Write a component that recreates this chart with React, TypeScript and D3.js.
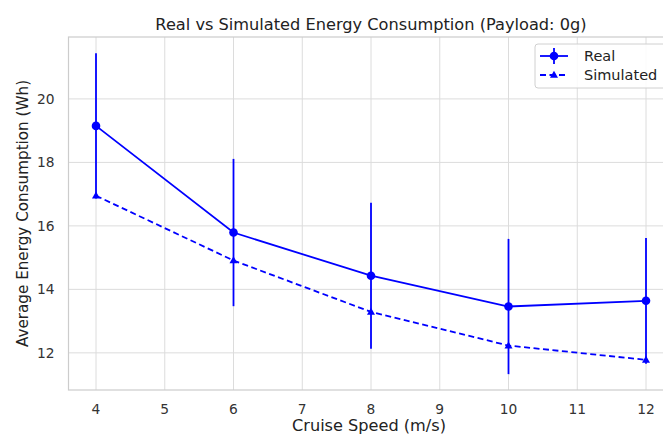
import React from "react";
import * as d3 from "d3";

const speeds = [4, 6, 8, 10, 12];
const realMean = [19.15, 15.79, 14.43, 13.46, 13.64];
const realErr = [2.29, 2.32, 2.3, 2.13, 1.98];
const simulated = [16.95, 14.91, 13.29, 12.23, 11.78];
const xTicks = [4, 5, 6, 7, 8, 9, 10, 11, 12];
const yTicks = [12, 14, 16, 18, 20];

const W = 663;
const H = 434;
const margin = { left: 68.5, top: 37, bottom: 390 };
const plotRight = 673.5;
const BLUE = "#0000ff";
const FONT = "DejaVu Sans, sans-serif";

export default function App() {
  const x = d3.scaleLinear().domain([3.6, 12.4]).range([margin.left, plotRight]);
  const y = d3.scaleLinear().domain([10.83, 21.95]).range([margin.bottom, margin.top]);

  const line = d3
    .line<number>()
    .x((_, i) => x(speeds[i]))
    .y((d) => y(d));

  const tri = d3.symbol().type(d3.symbolTriangle).size(28)() as string;

  return (
    <svg
      width={W}
      height={H}
      style={{ position: "absolute", left: 0, top: 0, background: "#fff" }}
      fontFamily={FONT}
    >
      <rect x={0} y={0} width={W} height={H} fill="#fff" />
      {/* grid */}
      {xTicks.map((t) => (
        <line key={"gx" + t} x1={x(t)} x2={x(t)} y1={margin.top} y2={margin.bottom} stroke="#dcdcdc" strokeWidth={1} />
      ))}
      {yTicks.map((t) => (
        <line key={"gy" + t} x1={margin.left} x2={plotRight} y1={y(t)} y2={y(t)} stroke="#dcdcdc" strokeWidth={1} />
      ))}
      {/* frame */}
      <rect
        x={margin.left}
        y={margin.top}
        width={plotRight - margin.left}
        height={margin.bottom - margin.top}
        fill="none"
        stroke="#cccccc"
        strokeWidth={1.2}
      />
      {/* tick labels */}
      {xTicks.map((t) => (
        <text key={"tx" + t} x={x(t)} y={margin.bottom + 24} fontSize={13.8} fill="#333" textAnchor="middle">
          {t}
        </text>
      ))}
      {yTicks.map((t) => (
        <text key={"ty" + t} x={54.5} y={y(t) + 5} fontSize={13.8} fill="#333" textAnchor="end">
          {t}
        </text>
      ))}
      {/* error bars */}
      {speeds.map((s, i) => (
        <line
          key={"e" + s}
          x1={x(s)}
          x2={x(s)}
          y1={y(realMean[i] - realErr[i])}
          y2={y(realMean[i] + realErr[i])}
          stroke={BLUE}
          strokeWidth={1.8}
        />
      ))}
      {/* lines */}
      <path d={line(realMean) ?? ""} fill="none" stroke={BLUE} strokeWidth={1.8} />
      <path d={line(simulated) ?? ""} fill="none" stroke={BLUE} strokeWidth={1.8} strokeDasharray="6,3.5" />
      {/* markers */}
      {speeds.map((s, i) => (
        <circle key={"m" + s} cx={x(s)} cy={y(realMean[i])} r={4.3} fill={BLUE} />
      ))}
      {speeds.map((s, i) => (
        <path key={"t" + s} d={tri} transform={`translate(${x(s)},${y(simulated[i]) + 0.5})`} fill={BLUE} />
      ))}
      {/* title and axis labels */}
      <text x={(margin.left + plotRight) / 2} y={30} fontSize={16.2} fill="#222" textAnchor="middle">
        Real vs Simulated Energy Consumption (Payload: 0g)
      </text>
      <text
        x={(margin.left + plotRight) / 2 - 2}
        y={431}
        fontSize={15.3}
        fill="#222"
        textAnchor="middle"
        textLength={154}
        lengthAdjust="spacingAndGlyphs"
      >
        Cruise Speed (m/s)
      </text>
      <text
        transform={`translate(27.5,${(margin.top + margin.bottom) / 2}) rotate(-90)`}
        fontSize={15.2}
        fill="#222"
        textAnchor="middle"
      >
        Average Energy Consumption (Wh)
      </text>
      {/* legend */}
      <rect x={535} y={44} width={132} height={44} rx={3} fill="#fff" fillOpacity={0.85} stroke="#d0d0d0" />
      <line x1={540} x2={568} y1={56} y2={56} stroke={BLUE} strokeWidth={1.8} />
      <line x1={554} x2={554} y1={48} y2={64} stroke={BLUE} strokeWidth={1.8} />
      <circle cx={554} cy={56} r={4.3} fill={BLUE} />
      <text x={584} y={61} fontSize={14.5} fill="#222">
        Real
      </text>
      <line x1={540} x2={568} y1={75} y2={75} stroke={BLUE} strokeWidth={1.8} strokeDasharray="6,3.5" />
      <path d={tri} transform="translate(554,75.5)" fill={BLUE} />
      <text x={584} y={80} fontSize={14.5} fill="#222">
        Simulated
      </text>
    </svg>
  );
}
